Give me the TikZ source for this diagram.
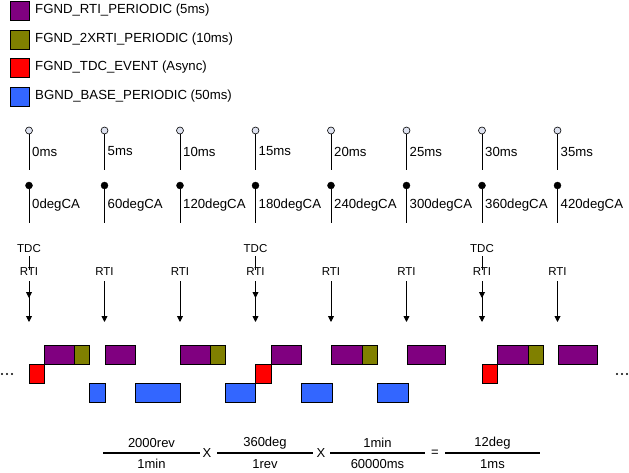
\documentclass[tikz,border=0pt]{standalone}
\usepackage{fontspec}
\setmainfont{Liberation Sans}
\usetikzlibrary{arrows.meta}
\definecolor{cpurple}{RGB}{128,0,128}
\definecolor{colive}{RGB}{128,128,0}
\definecolor{cred}{RGB}{255,0,0}
\definecolor{cblue}{RGB}{51,102,255}
\definecolor{copen}{RGB}{222,226,240}
\tikzset{
  box/.style={draw=black,line width=0.9pt},
  lbl/.style={font=\fontsize{13.2}{15}\selectfont,inner sep=0pt,anchor=west},
  small/.style={font=\fontsize{11.5}{13}\selectfont,inner sep=0pt},
  opendot/.style={circle,draw=black,fill=copen,line width=0.6pt,minimum size=7pt,inner sep=0pt},
  fulldot/.style={circle,draw=black,fill=black,minimum size=7pt,inner sep=0pt},
  vline/.style={line width=0.9pt},
  tip/.style={line width=0.9pt,-{Triangle[width=6pt,length=6pt]}},
  frac/.style={line width=2pt},
  ftext/.style={font=\fontsize{13}{15}\selectfont,inner sep=0pt},
  trail/.style={circle,fill=black,minimum size=2.4pt,inner sep=0pt}
}
\begin{document}
\begin{tikzpicture}[x=1pt,y=-1pt]
\useasboundingbox (0,0) rectangle (629,473);
% legend
\draw[box,fill=cpurple] (10,1) rectangle (29,20);
\draw[box,fill=colive] (10,30) rectangle (29,49);
\draw[box,fill=cred] (10,58) rectangle (29,77);
\draw[box,fill=cblue] (10,87) rectangle (29,106);
\node[lbl] (l1) at (35,10.5) {FGND\_RTI\_PERIODIC (5ms)};
\node[lbl] (l2) at (35,39.5) {FGND\_2XRTI\_PERIODIC (10ms)};
\node[lbl] (l3) at (35,67.5) {FGND\_TDC\_EVENT (Async)};
\node[lbl] (l4) at (35,96.5) {BGND\_BASE\_PERIODIC (50ms)};
% time and angle ticks
\foreach \x/\t/\a [count=\i] in {29/0/0,104.5/5/60,180/10/120,255.5/15/180,331/20/240,406.5/25/300,482/30/360,557.5/35/420}{
  \node[opendot] (o\i) at (\x,130.5) {};
  \coordinate (oe\i) at (\x,170);
  \draw[vline] (o\i.south) -- (oe\i);
  \node[lbl] (ms\i) at (\x+3,151.5) {\t ms};
  \node[fulldot] (f\i) at (\x,185.5) {};
  \coordinate (fe\i) at (\x,223);
  \draw[vline] (f\i) -- (fe\i);
  \node[lbl] (deg\i) at (\x+3,205.5) {\a degCA};
  \node[small] (rti\i) at (\x,272) {RTI};
  \coordinate (ae\i) at (\x,322);
  \draw[tip] (\x,281) -- (ae\i);
}
% TDC events
\foreach \i/\x in {1/29,4/255.5,7/482}{
  \node[small] (tdc\i) at (\x,249) {TDC};
  \draw[line width=0.8pt] (tdc\i.south) ++(0,3) -- ([yshift=-2pt]rti\i.north);
  \coordinate (am\i) at (\x,298);
  \draw[tip] (\x,285) -- (am\i);
}
% task boxes
\foreach \a/\b in {44/74,105/135,180/210,271/301,331/362,407/445,497/528,558/597}{
  \draw[box,fill=cpurple] (\a,345) rectangle (\b,364);
}
\foreach \a/\b in {74/89,210/225,362/377,528/543}{
  \draw[box,fill=colive] (\a,345) rectangle (\b,364);
}
\foreach \a/\b in {29/44,255/271,482/497}{
  \draw[box,fill=cred] (\a,364) rectangle (\b,383);
}
\foreach \a/\b in {89/105,135/180,225/255,301/332,377/408}{
  \draw[box,fill=cblue] (\a,383) rectangle (\b,402);
}
% continuation dots
\foreach \x [count=\i] in {2,7,12}{ \node[trail] (dl\i) at (\x,374) {}; }
\foreach \x [count=\i] in {617,622,627}{ \node[trail] (dr\i) at (\x,374) {}; }
% formula
\foreach \a/\b/\n/\d [count=\i] in {103/200/2000rev/1min,217/313/360deg/1rev,330/425/1min/60000ms,445/540/12deg/1ms}{
  \coordinate (fa\i) at (\a,453);
  \coordinate (fb\i) at (\b,453);
  \draw[frac] (fa\i) -- (fb\i);
  \node[ftext] (num\i) at ({(\a+\b)/2},443) {\n};
  \node[ftext] (den\i) at ({(\a+\b)/2},464) {\d};
}
\node[ftext] (x1) at (207,453) {X};
\node[ftext] (x2) at (321,453) {X};
\node[ftext] (eq) at (435,453) {=};
\end{tikzpicture}
\end{document}
